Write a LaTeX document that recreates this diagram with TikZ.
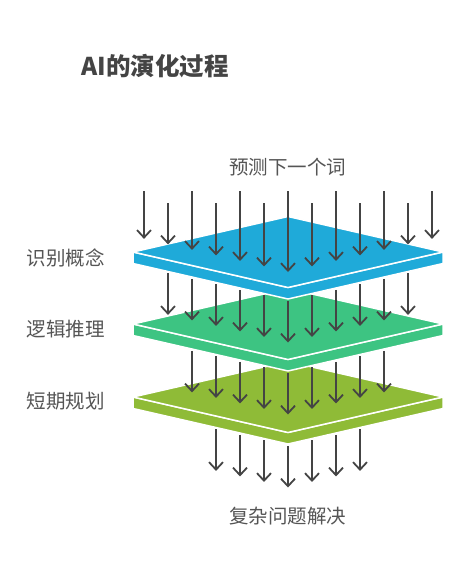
\documentclass[tikz,border=0pt]{standalone}
\usepackage{fontspec}
\newfontfamily\cjk{Noto Sans CJK SC}
\usetikzlibrary{arrows.meta}
\definecolor{layerblue}{HTML}{1FAAD9}
\definecolor{layergreen}{HTML}{3DC482}
\definecolor{layerolive}{HTML}{8FBB37}
\definecolor{inkgray}{HTML}{444444}
\definecolor{textgray}{HTML}{555555}

\begin{document}
\begin{tikzpicture}[x=1pt, y=-1pt,
    layerface/.style={draw=white, line width=1.5pt, line join=round},
    flowarrow/.style={draw=inkgray, line width=1.8pt,
      -{Straight Barb[length=7.5pt, width=14pt, line width=1.8pt]}},
    stagetext/.style={text=textgray, font=\cjk\fontsize{19.5}{20}\selectfont, inner sep=0pt}]
  \useasboundingbox (0,0) rectangle (468,576);

  \node (title) [anchor=west, inner sep=0pt, text=inkgray,
    font=\cjk\bfseries\fontsize{24.5}{25}\selectfont] at (81.5,66.5) {AI的演化过程};

  \foreach \c/\m in {layerolive/397, layergreen/324, layerblue/252}
  {
    \path[layerface, fill=\c] (133,\m) -- (288,\m+35.5) -- (443,\m) -- (443,\m+11.5)
      -- (288,\m+47) -- (133,\m+11.5) -- cycle;
    \path[layerface, fill=\c] (133,\m) -- (288,\m-35.5) -- (443,\m) -- (288,\m+35.5) -- cycle;
  }

  \foreach \i in {-6,...,6}
  {
    \pgfmathsetmacro{\x}{288+24*\i}
    \pgfmathsetmacro{\dy}{5.52*abs(\i)}
    \pgfmathsetmacro{\s}{mod(\i+6,2)==0 ? 191 : 203}
    \draw[flowarrow] (\x,\s) -- (\x,272-\dy);
  }

  \foreach \m/\n in {252/5, 324/4, 397/3}
    \foreach \i in {-\n,...,\n}
    {
      \pgfmathsetmacro{\x}{288+24*\i}
      \pgfmathsetmacro{\dy}{5.52*abs(\i)}
      \draw[flowarrow] (\x,\m+49-\dy) -- ++(0,41.5);
    }

  \node (predict) [stagetext] at (287.5,167.5) {预测下一个词};
  \node (concept) [stagetext, anchor=west] at (26.5,257.5) {识别概念};
  \node (reasoning) [stagetext, anchor=west] at (26.5,329) {逻辑推理};
  \node (planning) [stagetext, anchor=west] at (26.5,401) {短期规划};
  \node (solve) [stagetext] at (287.5,516) {复杂问题解决};
\end{tikzpicture}
\end{document}
